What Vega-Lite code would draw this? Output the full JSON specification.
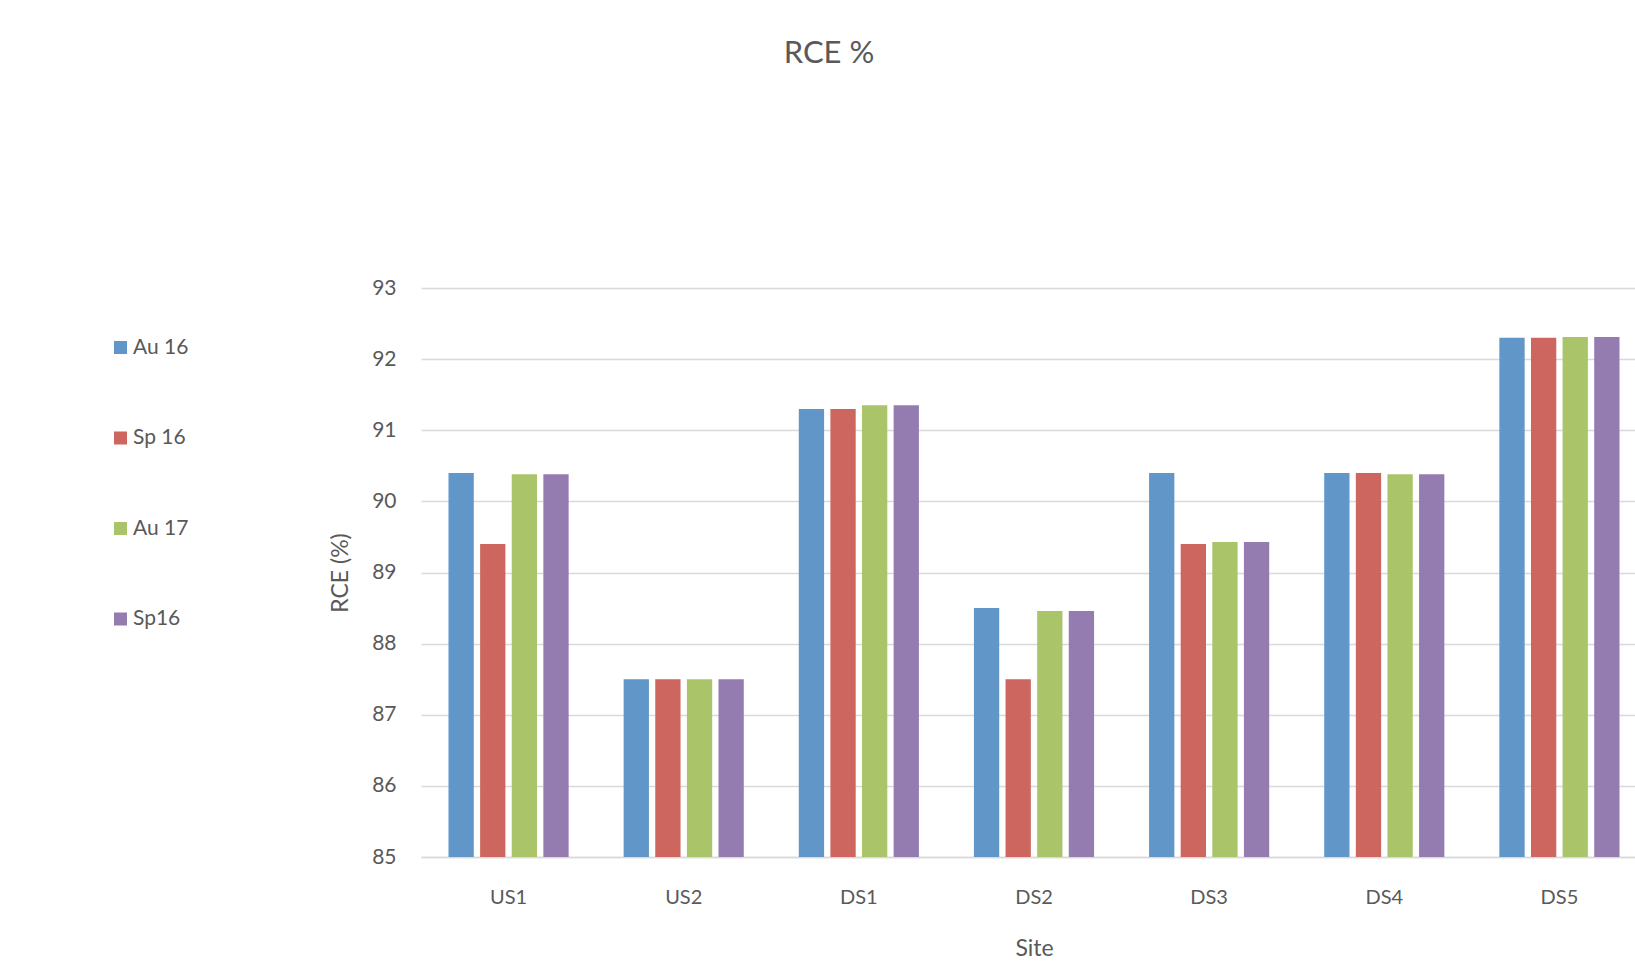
{
  "$schema": "https://vega.github.io/schema/vega-lite/v6.json",
  "autosize": {"type": "none"},
  "padding": {"left": 421, "top": 288, "right": 0, "bottom": 110},
  "width": 1226,
  "height": 569,
  "background": "white",
  "title": {
    "text": "RCE %",
    "font": "Lato",
    "fontSize": 31,
    "fontWeight": "normal",
    "color": "#595959",
    "anchor": "middle",
    "frame": "group",
    "dx": -205,
    "offset": 207
  },
  "data": {
    "values": [
      {"site": "US1", "season": "Au 16", "rce": 90.4},
      {"site": "US1", "season": "Sp 16", "rce": 89.4},
      {"site": "US1", "season": "Au 17", "rce": 90.38},
      {"site": "US1", "season": "Sp16", "rce": 90.38},
      {"site": "US2", "season": "Au 16", "rce": 87.5},
      {"site": "US2", "season": "Sp 16", "rce": 87.5},
      {"site": "US2", "season": "Au 17", "rce": 87.5},
      {"site": "US2", "season": "Sp16", "rce": 87.5},
      {"site": "DS1", "season": "Au 16", "rce": 91.3},
      {"site": "DS1", "season": "Sp 16", "rce": 91.3},
      {"site": "DS1", "season": "Au 17", "rce": 91.35},
      {"site": "DS1", "season": "Sp16", "rce": 91.35},
      {"site": "DS2", "season": "Au 16", "rce": 88.5},
      {"site": "DS2", "season": "Sp 16", "rce": 87.5},
      {"site": "DS2", "season": "Au 17", "rce": 88.46},
      {"site": "DS2", "season": "Sp16", "rce": 88.46},
      {"site": "DS3", "season": "Au 16", "rce": 90.4},
      {"site": "DS3", "season": "Sp 16", "rce": 89.4},
      {"site": "DS3", "season": "Au 17", "rce": 89.43},
      {"site": "DS3", "season": "Sp16", "rce": 89.43},
      {"site": "DS4", "season": "Au 16", "rce": 90.4},
      {"site": "DS4", "season": "Sp 16", "rce": 90.4},
      {"site": "DS4", "season": "Au 17", "rce": 90.38},
      {"site": "DS4", "season": "Sp16", "rce": 90.38},
      {"site": "DS5", "season": "Au 16", "rce": 92.3},
      {"site": "DS5", "season": "Sp 16", "rce": 92.3},
      {"site": "DS5", "season": "Au 17", "rce": 92.31},
      {"site": "DS5", "season": "Sp16", "rce": 92.31}
    ]
  },
  "mark": {"type": "bar", "clip": true},
  "encoding": {
    "x": {
      "field": "site",
      "type": "nominal",
      "sort": ["US1", "US2", "DS1", "DS2", "DS3", "DS4", "DS5"],
      "scale": {"paddingInner": 0.314, "paddingOuter": 0.157},
      "title": "Site",
      "axis": {
        "labelAngle": 0,
        "labelFont": "Lato",
        "labelFontSize": 20,
        "labelColor": "#595959",
        "labelPadding": 30,
        "ticks": false,
        "domainColor": "#d9d9d9",
        "domainWidth": 1.5,
        "titleFont": "Lato",
        "titleFontSize": 23,
        "titleFontWeight": "normal",
        "titleColor": "#595959",
        "titlePadding": 30,
        "titleAnchor": "middle"
      }
    },
    "xOffset": {
      "field": "season",
      "type": "nominal",
      "sort": ["Au 16", "Sp 16", "Au 17", "Sp16"],
      "scale": {"paddingInner": 0.2}
    },
    "y": {
      "field": "rce",
      "type": "quantitative",
      "scale": {"domain": [85, 93], "zero": false, "nice": false},
      "title": "RCE (%)",
      "axis": {
        "values": [85, 86, 87, 88, 89, 90, 91, 92, 93],
        "labelFont": "Lato",
        "labelFontSize": 21,
        "labelColor": "#595959",
        "labelPadding": 25,
        "ticks": false,
        "domain": false,
        "gridColor": "#d9d9d9",
        "gridWidth": 1.5,
        "titleFont": "Lato",
        "titleFontSize": 23,
        "titleFontWeight": "normal",
        "titleColor": "#595959",
        "titlePadding": 19
      }
    },
    "color": {
      "field": "season",
      "type": "nominal",
      "sort": ["Au 16", "Sp 16", "Au 17", "Sp16"],
      "scale": {
        "domain": ["Au 16", "Sp 16", "Au 17", "Sp16"],
        "range": ["#6196c9", "#cd665f", "#aac46a", "#947cb1"]
      },
      "legend": {
        "title": null,
        "orient": "none",
        "legendX": -311,
        "legendY": 49,
        "padding": 0,
        "symbolType": "square",
        "symbolSize": 170,
        "symbolStrokeWidth": 0,
        "labelFont": "Lato",
        "labelFontSize": 21,
        "labelColor": "#595959",
        "labelOffset": 2,
        "rowPadding": 68.5
      }
    }
  },
  "config": {
    "view": {"stroke": null}
  }
}
